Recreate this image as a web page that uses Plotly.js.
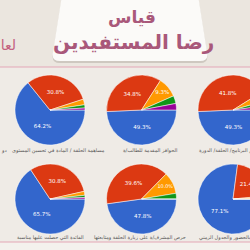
<!DOCTYPE html>
<html><head><meta charset="utf-8">
<script src="https://cdn.plot.ly/plotly-3.0.1.min.js"></script>
<style>html,body{margin:0;padding:0;overflow:hidden;width:250px;height:250px;background:#efebe6}#c{width:290px;height:250px}</style>
</head><body><div id="c"></div>
<script>
// data
const sliceNames = ['أ','ب','ج','د','هـ'];
const pie1 = [64.2, 30.8, 2.6, 1.5, 0.9];
const pie2 = [49.3, 34.8, 9.3, 3.6, 3.0];
const pie3 = [49.3, 41.8, 4.5, 2.4, 2.0];
const pie4 = [65.7, 30.8, 1.8, 1.0, 0.7];
const pie5 = [47.8, 39.6, 10.0, 2.6, 0];
const pie6 = [77.1, 21.4, 1.5, 0, 0];
const captions = [
  'مساهمة الحلقة / المادة في تحسين المستوى',
  'الحوافز المقدمة للطالب/ة',
  'تقييم البرنامج/ الحلقة/ الدورة',
  'الفائدة التي حصلت عليها مناسبة',
  'حرص المشرف/ة على زيارة الحلقة ومتابعتها',
  'الالتزام بالحضور والجدول الزمني'
];
const titleLine1 = 'قياس';
const titleLine2 = 'رضا المستفيدين';

const W = 290, H = 250;
const X = p => p / W, Y = p => 1 - p / H;
const colors = ['#3366cc', '#dc3912', '#ff9900', '#109618', '#990099'];
const all = [pie1, pie2, pie3, pie4, pie5, pie6];
const centers = [[50,110],[141.5,110],[233,110],[50,199],[141.5,199],[233,199]];
const R = 35;

const traces = all.map((vals, i) => {
  const [cx, cy] = centers[i];
  return {
    type: 'pie', values: vals, labels: sliceNames, sort: false,
    direction: 'clockwise', rotation: 90,
    marker: {colors: colors, line: {color: '#ffffff', width: 0.5}},
    texttemplate: vals.map(v => v >= 5 ? '%{percent:.1%}' : ''),
    textposition: 'inside', insidetextorientation: 'horizontal',
    textfont: {family: 'DejaVu Sans', size: 5.5, color: '#ffffff'},
    hoverinfo: 'skip', showlegend: false,
    domain: {x: [X(cx - R), X(cx + R)], y: [Y(cy + R), Y(cy - R)]}
  };
});

const P = (x, y) => X(x).toFixed(4) + ',' + Y(y).toFixed(4);
const trap = (dx, dy) => 'M' + P(62+dx, -5+dy) + ' L' + P(198+dx, -5+dy) + ' L' + P(207+dx, 52+dy) +
  ' Q' + P(209+dx, 61+dy) + ' ' + P(200+dx, 61+dy) + ' L' + P(60+dx, 61+dy) +
  ' Q' + P(51+dx, 61+dy) + ' ' + P(53+dx, 52+dy) + ' Z';

const shapes = [
  {type: 'rect', xref: 'paper', yref: 'paper', x0: 0, x1: 1, y0: Y(67), y1: 1, fillcolor: '#ebe6df', line: {width: 0}, layer: 'below'},
  {type: 'rect', xref: 'paper', yref: 'paper', x0: 0, x1: 1, y0: 0, y1: Y(242), fillcolor: '#f4f1ed', line: {width: 0}, layer: 'below'},
  {type: 'path', xref: 'paper', yref: 'paper', path: trap(0, 2), fillcolor: 'rgba(120,110,100,0.25)', line: {width: 0}, layer: 'below'},
  {type: 'path', xref: 'paper', yref: 'paper', path: trap(0, 0), fillcolor: '#fbfaf8', line: {width: 0}, layer: 'below'},
  {type: 'line', xref: 'paper', yref: 'paper', x0: 0, x1: 1, y0: Y(67), y1: Y(67), line: {color: '#e3a7b6', width: 1}},
  {type: 'line', xref: 'paper', yref: 'paper', x0: 0, x1: 1, y0: Y(242), y1: Y(242), line: {color: '#e3a7b6', width: 1}}
];

const ann = (t, x, y, size, color, xa, extra) => Object.assign({
  text: t, xref: 'paper', yref: 'paper', x: X(x), y: Y(y), xanchor: xa || 'center', yanchor: 'middle',
  showarrow: false, font: {family: 'DejaVu Sans', size: size, color: color}
}, extra || {});

const annotations = [
  ann('<b>' + titleLine1 + '</b>', 132, 17, 17, '#a9587a'),
  ann('<b>' + titleLine2 + '</b>', 133, 42, 20, '#a9587a'),
  ann('لعام', 18, 45, 14, '#c4607e', 'right'),
  ann('دو', 9, 150, 5, '#555555', 'right'),
  ann(captions[0], 58, 150, 5, '#555555'),
  ann(captions[1], 150, 150, 5, '#555555'),
  ann(captions[2], 197, 150, 5, '#555555', 'left'),
  ann(captions[3], 50, 237, 5, '#555555'),
  ann(captions[4], 140, 237, 5, '#555555'),
  ann(captions[5], 197, 237, 5, '#555555', 'left')
];

Plotly.newPlot('c', traces, {
  width: W, height: H, margin: {l: 0, r: 0, t: 0, b: 0},
  paper_bgcolor: '#efebe6', plot_bgcolor: '#efebe6',
  shapes: shapes, annotations: annotations
}, {staticPlot: true, displayModeBar: false});
</script></body></html>
